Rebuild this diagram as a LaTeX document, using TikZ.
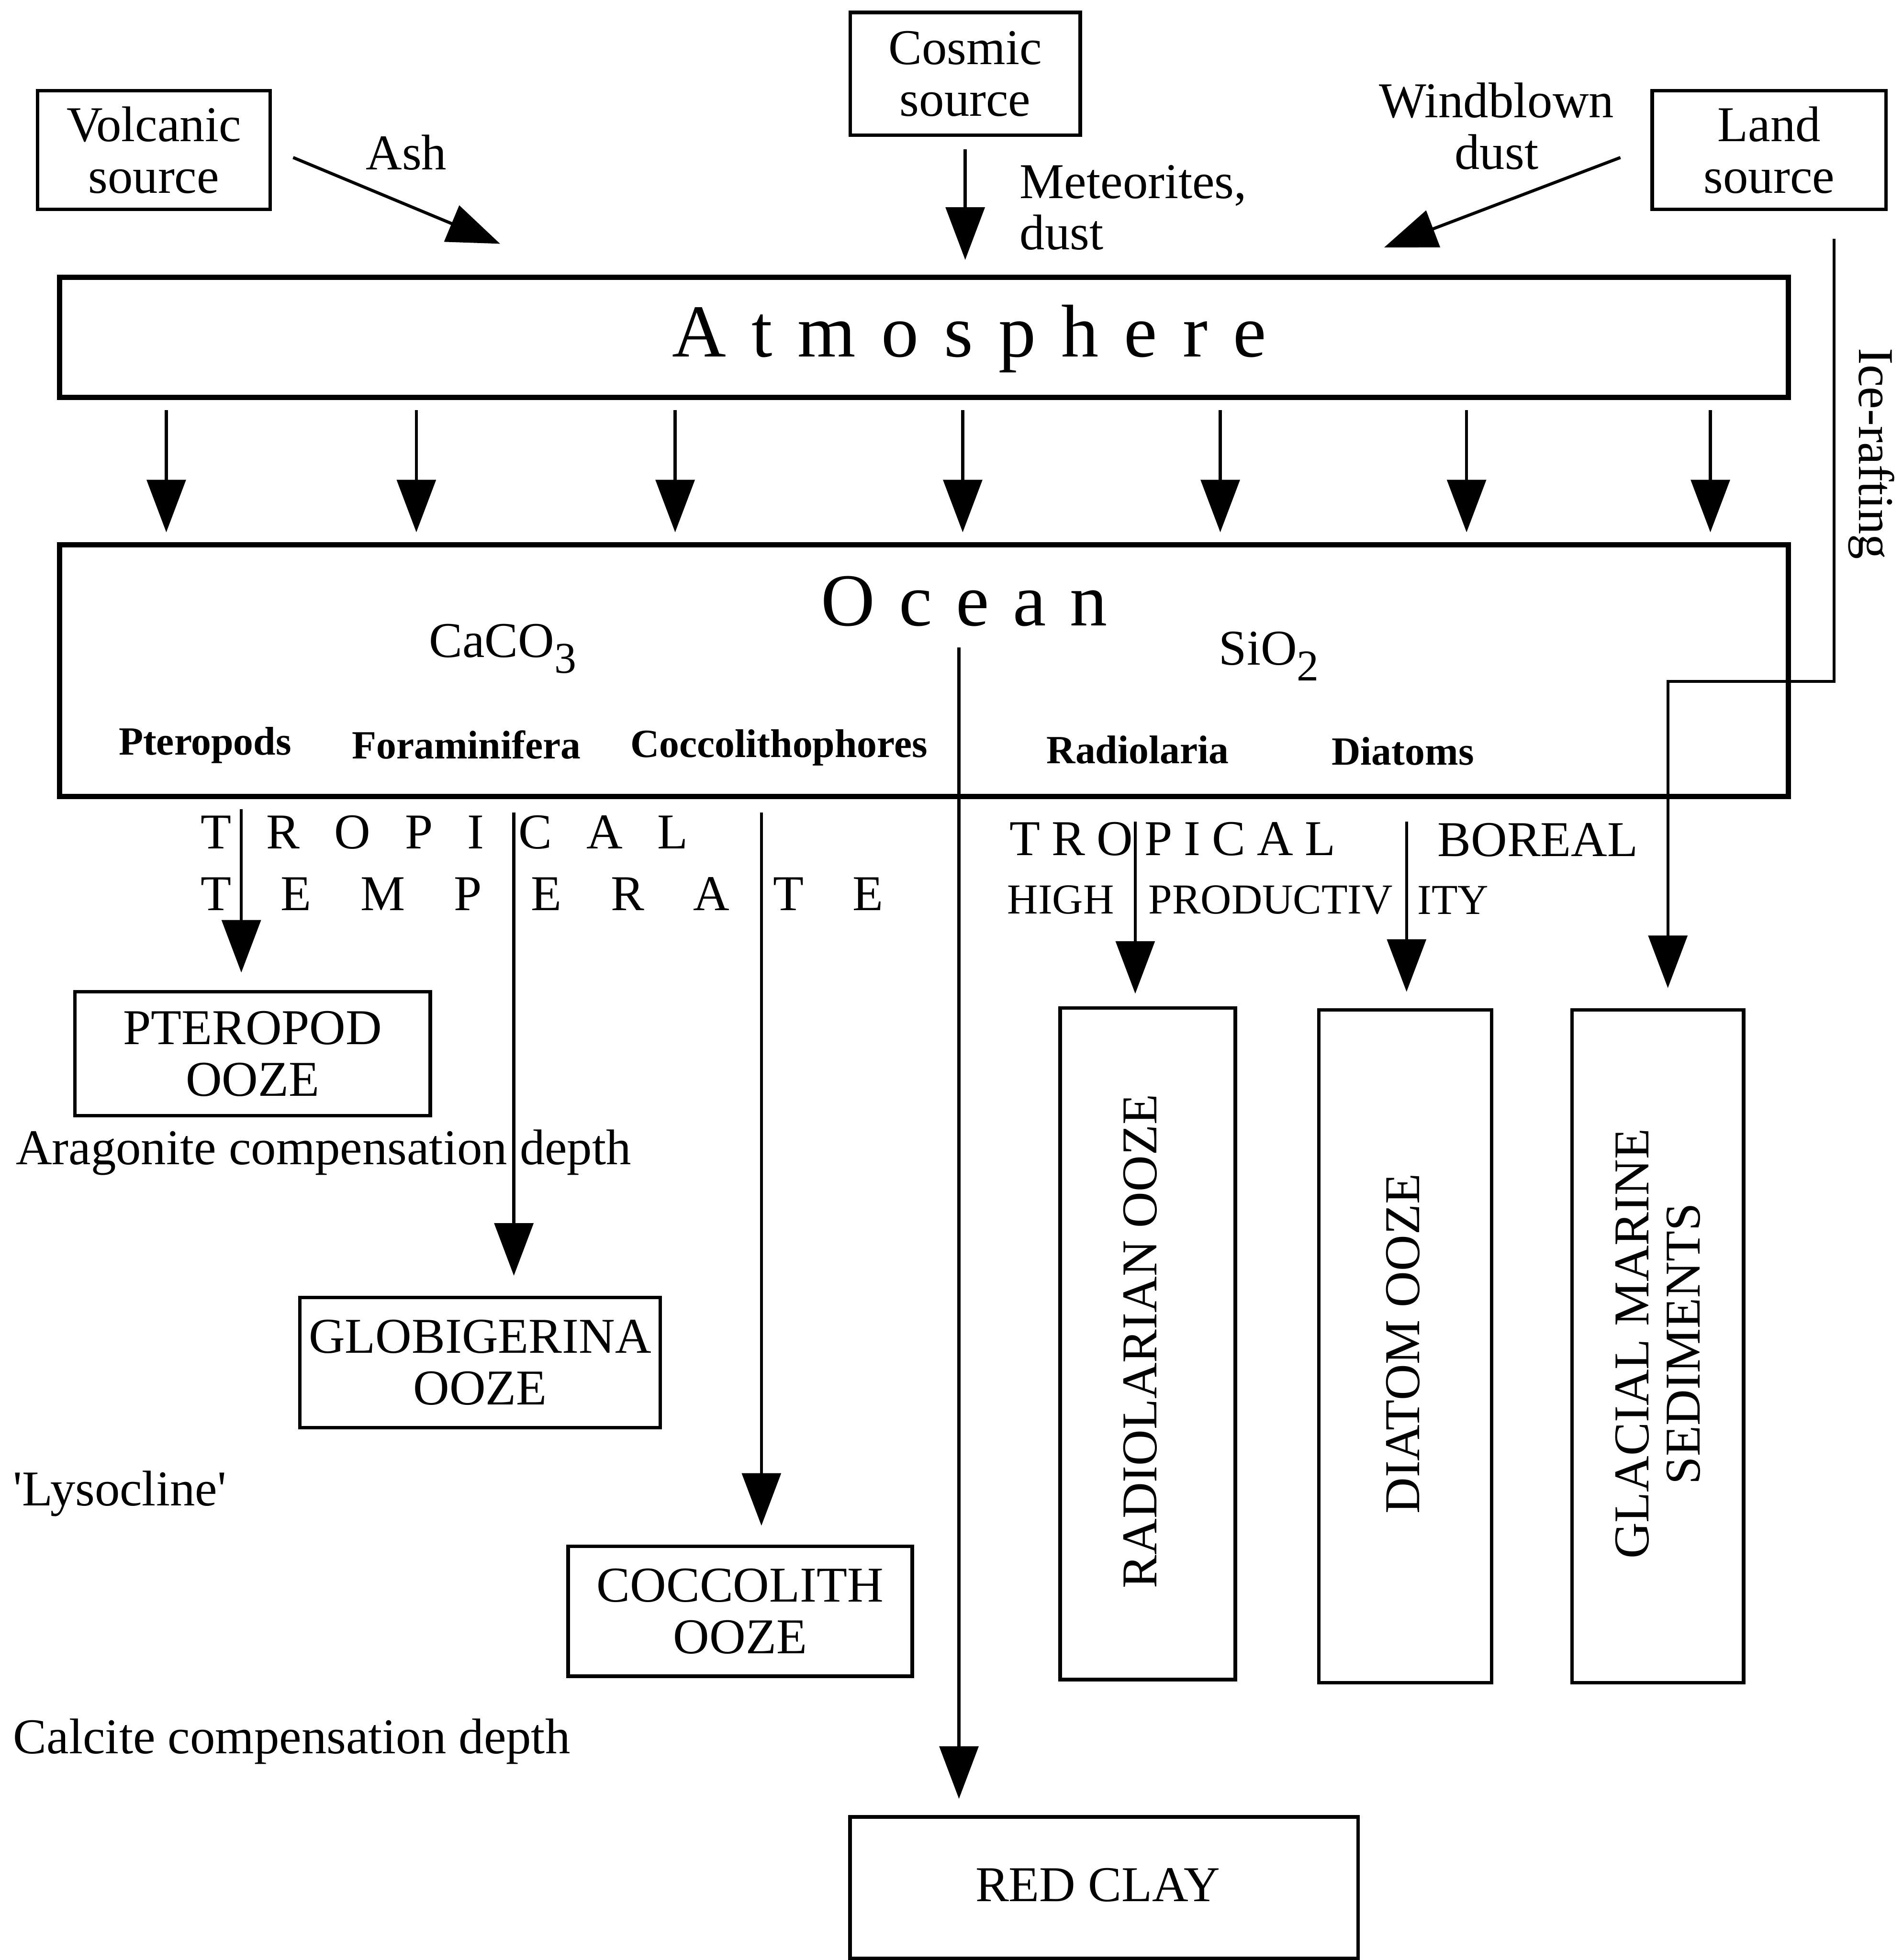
\documentclass[tikz,border=0pt]{standalone}
\usepackage{fontspec}
\setmainfont{Liberation Serif}
\usetikzlibrary{arrows.meta,positioning}

\newcommand{\chemsub}[1]{\raisebox{-0.32em}{\fontsize{10}{10}\selectfont #1}}

\tikzset{
    every node/.style={inner sep=0pt, font=\fontsize{11.4}{11.7}\selectfont},
    box/.style={draw, line width=0.8pt, align=center},
    sphere/.style={draw, line width=1.2pt, minimum width=13.82cm},
    flow/.style={line width=0.7pt, -{Triangle[length=4.2mm, width=3.1mm]}},
    taxon/.style={font=\fontsize{9.1}{9.1}\selectfont\bfseries},
    heading/.style={anchor=west, font=\fontsize{17}{17}\selectfont\addfontfeature{LetterSpace=#1}},
    zone/.style={anchor=west, font=\fontsize{11.4}{11.4}\selectfont\addfontfeature{LetterSpace=#1}},
}

\begin{document}
\begin{tikzpicture}[x=0.01cm, y=-0.01cm]
    \useasboundingbox (0,0) rectangle (1522,1568);

    \node[box, minimum width=1.86cm, minimum height=0.95cm] (V) at (123,120) {Volcanic\\source};
    \node[box, minimum width=1.84cm, minimum height=0.98cm] (C) at (772,59) {Cosmic\\source};
    \node[box, minimum width=1.87cm, minimum height=0.95cm] (L) at (1415,120) {Land\\source};

    \node (ash) at (325,122) {Ash};
    \node[anchor=west, align=left] (met) at (815,166) {Meteorites,\\dust};
    \node[align=center] (wind) at (1197,101) {Windblown\\dust};
    \node[rotate=-90] (ice) at (1497,363) {Ice-rafting};

    \coordinate (AA) at (400,195);
    \coordinate (LL) at (1107,198);
    \coordinate (IR) at (1334,545);

    \node[sphere, minimum height=0.96cm] (ATM) at (739,270) {};
    \node[heading=34] (atmtext) at (537,271) {Atmosphere};

    \node[sphere, minimum height=2.01cm] (OC) at (739,536.5) {};
    \node[heading=32] (octext) at (656,481) {Ocean};
    \node (caco) at (402,519) {CaCO\chemsub{3}};
    \node (sio) at (1015,525) {SiO\chemsub{2}};
    \node[taxon] (pt) at (164,596) {Pteropods};
    \node[taxon] (fo) at (373,596) {Foraminifera};
    \node[taxon] (cl) at (623,598) {Coccolithophores};
    \node[taxon] (ra) at (910,600) {Radiolaria};
    \node[taxon] (di) at (1122,601) {Diatoms};

    \node[zone=69] (trop1) at (160,666) {TROPICAL};
    \node[zone=98] (temp1) at (160,715) {TEMPERATE};
    \node[zone=23] (trop2) at (807,671) {TROPICAL};
    \node (bor) at (1230,672) {BOREAL};
    \node[anchor=west, font=\fontsize{9.7}{9.7}\selectfont] (hi) at (805,720) {HIGH};
    \node[anchor=west, font=\fontsize{9.7}{9.7}\selectfont] (prod) at (918,720) {PRODUCTIV};
    \node[anchor=west, font=\fontsize{9.7}{9.7}\selectfont] (ity) at (1133,720) {ITY};

    \node[box, minimum width=2.84cm, minimum height=0.99cm] (PT) at (202,843) {PTEROPOD\\OOZE};
    \node[box, minimum width=2.88cm, minimum height=1.04cm] (GL) at (384,1090) {GLOBIGERINA\\OOZE};
    \node[box, minimum width=2.75cm, minimum height=1.04cm] (CO) at (592,1289) {COCCOLITH\\OOZE};
    \node[box, minimum width=4.06cm, minimum height=1.13cm] (RC) at (883,1510) {};
    \node (rctext) at (878,1508) {RED CLAY};

    \node[box, minimum width=1.40cm, minimum height=5.37cm] (RA) at (918,1075) {};
    \node[box, minimum width=1.38cm, minimum height=5.38cm] (DI) at (1124,1077) {};
    \node[box, minimum width=1.37cm, minimum height=5.38cm] (GM) at (1326,1077) {};
    \node[rotate=90] (ratext) at (912,1073) {RADIOLARIAN OOZE};
    \node[rotate=90] (ditext) at (1122,1075) {DIATOM OOZE};
    \node[rotate=90, align=center] (gmtext) at (1326,1075) {GLACIAL MARINE\\SEDIMENTS};

    \node[anchor=west] (acd) at (12,922) {Aragonite compensation depth};
    \node[anchor=west] (lys) at (10,1195) {\textquotesingle Lysocline\textquotesingle};
    \node[anchor=west] (ccd) at (10,1393) {Calcite compensation depth};

    \coordinate (a1) at (133,0);
    \coordinate (a2) at (333,0);
    \coordinate (a3) at (540,0);
    \coordinate (a4) at (770,0);
    \coordinate (a5) at (976,0);
    \coordinate (a6) at (1173,0);
    \coordinate (a7) at (1368,0);

    \coordinate (b1) at (193,0);
    \coordinate (b2) at (411,0);
    \coordinate (b3) at (609,0);
    \coordinate (b4) at (767,518);
    \coordinate (b5) at (908,0);
    \coordinate (b6) at (1125,0);

    \draw[flow] ([shift={(17,6)}]V.east) -- (AA);
    \draw[flow, shorten <=1mm, shorten >=1.2mm] (C.south) -- (C.south |- ATM.north);
    \draw[flow] ([shift={(-24,6)}]L.west) -- (LL);

    \draw[flow, shorten <=0.8mm, shorten >=0.8mm] (ATM.south -| a1) -- (OC.north -| a1);
    \draw[flow, shorten <=0.8mm, shorten >=0.8mm] (ATM.south -| a2) -- (OC.north -| a2);
    \draw[flow, shorten <=0.8mm, shorten >=0.8mm] (ATM.south -| a3) -- (OC.north -| a3);
    \draw[flow, shorten <=0.8mm, shorten >=0.8mm] (ATM.south -| a4) -- (OC.north -| a4);
    \draw[flow, shorten <=0.8mm, shorten >=0.8mm] (ATM.south -| a5) -- (OC.north -| a5);
    \draw[flow, shorten <=0.8mm, shorten >=0.8mm] (ATM.south -| a6) -- (OC.north -| a6);
    \draw[flow, shorten <=0.8mm, shorten >=0.8mm] (ATM.south -| a7) -- (OC.north -| a7);

    \draw[flow, shorten <=0.8mm, shorten >=1.4mm] (OC.south -| b1) -- (PT.north -| b1);
    \draw[flow, shorten <=1.1mm, shorten >=1.6mm] (OC.south -| b2) -- (GL.north -| b2);
    \draw[flow, shorten <=1.1mm, shorten >=1.5mm] (OC.south -| b3) -- (CO.north -| b3);
    \draw[flow, shorten >=1.3mm] (b4) -- (RC.north -| b4);
    \draw[flow, shorten <=1.8mm, shorten >=1mm] (OC.south -| b5) -- (RA.north -| b5);
    \draw[flow, shorten <=1.8mm, shorten >=1.3mm] (OC.south -| b6) -- (DI.north -| b6);
    \draw[flow, shorten >=1.6mm] ([xshift=-4.3mm, yshift=-2.2mm]L.south east) |- (IR) -- (IR |- GM.north);
\end{tikzpicture}
\end{document}
